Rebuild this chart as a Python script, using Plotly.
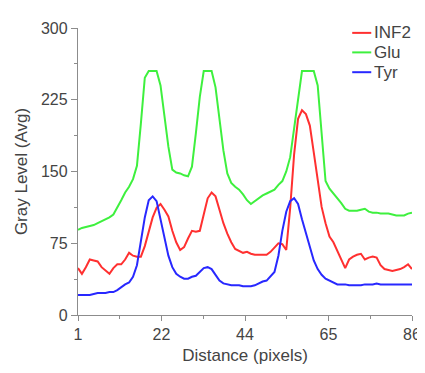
import plotly.graph_objects as go

distance = list(range(1, 87))

inf2 = [49, 43, 50, 58, 57, 56, 50, 46, 43, 49, 53, 53, 58, 65, 62, 61, 61, 72, 88, 102,
        112, 116, 110, 103, 88, 76, 68, 71, 80, 88, 87, 88, 105, 122, 128, 124, 110, 96, 85, 76,
        69, 67, 65, 66, 64, 63, 63, 63, 63, 66, 71, 75, 74, 68, 112, 168, 205, 214, 210, 198,
        170, 140, 113, 96, 82, 76, 67, 58, 49, 58, 61, 63, 64, 58, 60, 61, 60, 52, 48, 47,
        46, 47, 48, 50, 53, 48]

glu = [89, 91, 92, 93, 94, 96, 98, 100, 102, 105, 112, 120, 128, 134, 142, 156, 200, 248, 255, 255,
       255, 240, 205, 176, 152, 149, 148, 146, 145, 155, 190, 228, 255, 255, 255, 238, 205, 172, 148, 138,
       134, 131, 126, 120, 116, 119, 122, 125, 127, 129, 131, 136, 140, 150, 165, 195, 228, 255, 255, 255,
       255, 240, 185, 140, 132, 127, 123, 117, 111, 109, 109, 109, 110, 111, 108, 107, 107, 106, 106, 106,
       105, 104, 104, 104, 106, 107]

tyr = [21, 21, 21, 21, 22, 23, 23, 23, 24, 24, 26, 29, 32, 34, 40, 52, 75, 102, 120, 124,
       119, 100, 83, 62, 50, 43, 40, 38, 38, 40, 41, 45, 49, 50, 48, 42, 36, 33, 32, 31,
       31, 31, 30, 30, 30, 31, 33, 35, 36, 40, 45, 62, 88, 108, 119, 122, 116, 100, 86, 70,
       57, 48, 42, 38, 36, 34, 32, 32, 32, 31, 31, 31, 31, 32, 32, 32, 33, 32, 32, 32,
       32, 32, 32, 32, 32, 32]

series_names = ["INF2", "Glu", "Tyr"]
series_colors = ["#ff3030", "#3ef03e", "#2828ff"]

x_tickvals = [1, 22.25, 43.5, 64.75, 86]
x_ticktext = ["1", "22", "44", "65", "86"]
y_tickvals = [0, 75, 150, 225, 300]

FONT = "Liberation Sans, Arial, sans-serif"
TXT = "#444444"
AX = "#8c8c8c"

fig = go.Figure()
for name, vals, col in zip(series_names, [inf2, glu, tyr], series_colors):
    fig.add_trace(go.Scatter(x=distance, y=vals, mode="lines", name=name,
                             line=dict(color=col, width=2), showlegend=False))

fig.update_layout(
    width=425, height=373,
    margin=dict(l=70, r=20, t=14, b=66),
    paper_bgcolor="white", plot_bgcolor="white",
    font=dict(family=FONT, size=16, color=TXT),
    xaxis=dict(range=[1, 86], tickvals=x_tickvals, ticktext=x_ticktext,
               showgrid=False, zeroline=False, showline=True, linecolor=AX,
               linewidth=1.3, ticks="outside", ticklen=5, tickcolor=AX, tickwidth=1.3,
               minor=dict(ticks="outside", ticklen=3, tickcolor=AX,
                          tickvals=[11.625, 32.875, 54.125, 75.375]),
               title=dict(text="Distance (pixels)", standoff=6,
                          font=dict(size=17, color=TXT)),
               tickfont=dict(size=16, color=TXT)),
    yaxis=dict(range=[0, 300], tickvals=y_tickvals,
               showgrid=False, zeroline=False, showline=True, linecolor=AX,
               linewidth=1.3, ticks="outside", ticklen=6, tickcolor=AX, tickwidth=1.3,
               minor=dict(ticks="outside", ticklen=3, tickcolor=AX,
                          tickvals=[37.5, 112.5, 187.5, 262.5]),
               title=dict(text="Gray Level (Avg)", standoff=8,
                          font=dict(size=17, color=TXT)),
               tickfont=dict(size=16, color=TXT)),
)

# manual legend (short line samples, as in the reference)
leg_y = [0.983, 0.915, 0.846]
for name, col, yy in zip(series_names, series_colors, leg_y):
    fig.add_shape(type="line", xref="paper", yref="paper",
                  x0=0.821, x1=0.878, y0=yy, y1=yy,
                  line=dict(color=col, width=2))
    fig.add_annotation(text=name, xref="paper", yref="paper", x=0.881, y=yy,
                       xanchor="left", yanchor="middle", showarrow=False,
                       font=dict(family=FONT, size=17, color=TXT))

fig.write_html("out.html")
